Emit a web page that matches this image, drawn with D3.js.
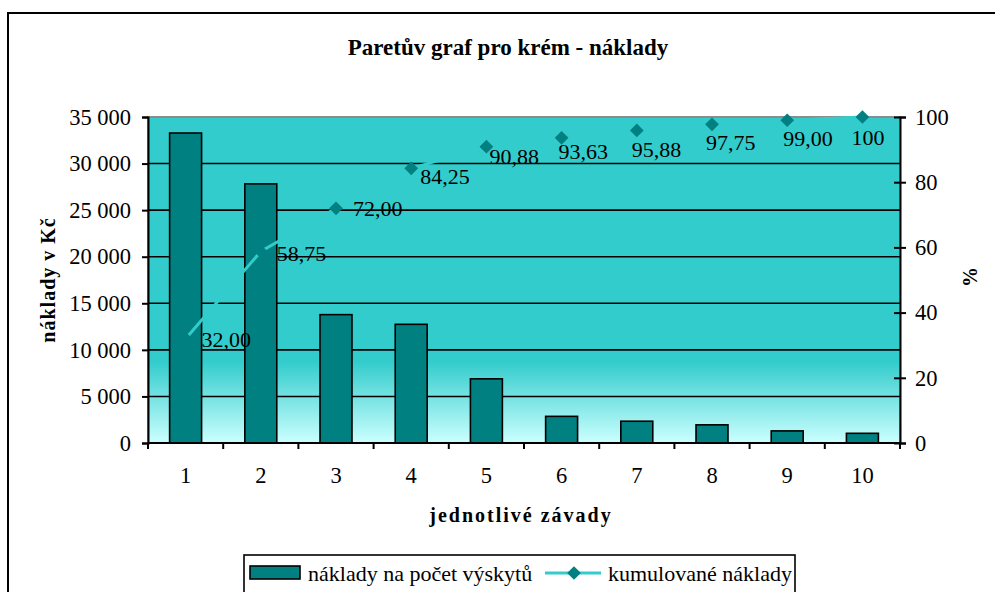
<!DOCTYPE html>
<html>
<head>
<meta charset="utf-8">
<script src="https://cdn.jsdelivr.net/npm/d3@7"></script>
<style>
  body { margin: 0; background: #fff; }
  svg { display: block; }
  svg text { font-family: 'Liberation Serif', 'Times New Roman', serif; fill: #000; }
</style>
</head>
<body>
<svg id="chart" width="995" height="592"></svg>
<script>
// Pareto data: cost per defect type and cumulative share of total cost
const categories = ["1", "2", "3", "4", "5", "6", "7", "8", "9", "10"];
const costs = [33280, 27820, 13780, 12740, 6890, 2860, 2340, 1950, 1300, 1040];
const cumulative = [32.00, 58.75, 72.00, 84.25, 90.88, 93.63, 95.88, 97.75, 99.00, 100];
const costTicks = [0, 5000, 10000, 15000, 20000, 25000, 30000, 35000];
const percentTicks = [0, 20, 40, 60, 80, 100];

// label placement around each cumulative marker [dx, dy] in px
const labelOffsets = [[16, 1], [16, 2], [17, 0], [9, 8], [3, 10], [-3, 14], [-5, 19], [-6, 18], [-4, 18], [-11, 20]];

const serif = "'Liberation Serif', 'Times New Roman', serif";
const svg = d3.select("#chart");
const plot = { left: 148, right: 900, top: 117, bottom: 443 };

const x = d3.scaleBand().domain(categories).range([plot.left, plot.right]).padding(0);
const yCost = d3.scaleLinear().domain([0, 35000]).range([plot.bottom, plot.top]);
const yPct = d3.scaleLinear().domain([0, 100]).range([plot.bottom, plot.top]);

const fmtCost = v => d3.format(",")(v).replace(/,/g, " ");
const fmtPct = v => v === 100 ? "100" : v.toFixed(2).replace(".", ",");

// outer chart frame
svg.append("rect")
  .attr("x", 8).attr("y", 13).attr("width", 1000).attr("height", 600)
  .attr("fill", "#fff").attr("stroke", "#000").attr("stroke-width", 2);

// plot-area gradient fill
const defs = svg.append("defs");
const grad = defs.append("linearGradient")
  .attr("id", "plotFill").attr("gradientUnits", "userSpaceOnUse")
  .attr("x1", 0).attr("x2", 0).attr("y1", plot.top).attr("y2", plot.bottom);
grad.append("stop").attr("offset", 0).attr("stop-color", "#33cccc");
grad.append("stop").attr("offset", 0.75).attr("stop-color", "#33cccc");
grad.append("stop").attr("offset", 1).attr("stop-color", "#ccffff");

svg.append("rect")
  .attr("x", plot.left).attr("y", plot.top)
  .attr("width", plot.right - plot.left).attr("height", plot.bottom - plot.top)
  .attr("fill", "url(#plotFill)").attr("stroke", "#8c8c8c").attr("stroke-width", 2);

// horizontal gridlines
svg.append("g").selectAll("line")
  .data(costTicks.filter(t => t > 0 && t < 35000))
  .join("line")
  .attr("x1", plot.left).attr("x2", plot.right)
  .attr("y1", d => yCost(d)).attr("y2", d => yCost(d))
  .attr("stroke", "#000").attr("stroke-width", 1.6);

// cost bars
const barW = x.bandwidth() * 0.425;
svg.append("g").selectAll("rect")
  .data(costs)
  .join("rect")
  .attr("x", (d, i) => x(categories[i]) + (x.bandwidth() - barW) / 2)
  .attr("y", d => yCost(d))
  .attr("width", barW)
  .attr("height", d => yCost(0) - yCost(d))
  .attr("fill", "#008080")
  .attr("stroke", "#000").attr("stroke-width", 1.6);

// cumulative line
const cx = i => x(categories[i]) + x.bandwidth() / 2;
const line = d3.line().x((d, i) => cx(i)).y(d => yPct(d));
svg.append("path")
  .datum(cumulative)
  .attr("d", line)
  .attr("fill", "none").attr("stroke", "#33cccc").attr("stroke-width", 3);

// diamond markers
const diamond = d3.symbol().type(d3.symbolDiamond2).size(120);
svg.append("g").selectAll("path")
  .data(cumulative)
  .join("path")
  .attr("d", diamond)
  .attr("transform", (d, i) => `translate(${cx(i)},${yPct(d)})`)
  .attr("fill", "#008080");

// value labels
svg.append("g").selectAll("text")
  .data(cumulative)
  .join("text")
  .attr("x", (d, i) => cx(i) + labelOffsets[i][0])
  .attr("y", (d, i) => yPct(d) + labelOffsets[i][1])
  .attr("dominant-baseline", "central")
  .attr("font-size", 22)
  .text(d => fmtPct(d));

// left axis
const leftAxis = svg.append("g")
  .attr("transform", `translate(${plot.left},0)`)
  .call(d3.axisLeft(yCost).tickValues(costTicks).tickFormat(fmtCost).tickSizeOuter(0).tickSize(6).tickPadding(11));
leftAxis.attr("font-family", serif);
leftAxis.select(".domain").attr("stroke", "#000").attr("stroke-width", 2);
leftAxis.selectAll(".tick line").attr("stroke", "#000").attr("stroke-width", 2);
leftAxis.selectAll(".tick text").attr("font-size", 22.5).attr("fill", "#000");

// right axis (ticks cross the axis line)
const rightAxis = svg.append("g")
  .attr("transform", `translate(${plot.right},0)`)
  .call(d3.axisRight(yPct).tickValues(percentTicks).tickSizeOuter(0).tickSize(6).tickPadding(9));
rightAxis.attr("font-family", serif);
rightAxis.select(".domain").attr("stroke", "#000").attr("stroke-width", 2);
rightAxis.selectAll(".tick line").attr("x1", -6).attr("stroke", "#000").attr("stroke-width", 2);
rightAxis.selectAll(".tick text").attr("font-size", 22.5).attr("fill", "#000");

// bottom axis: ticks on category boundaries, labels at centres
const bottom = svg.append("g").attr("transform", `translate(0,${plot.bottom})`);
bottom.append("line")
  .attr("x1", plot.left).attr("x2", plot.right)
  .attr("stroke", "#000").attr("stroke-width", 2);
const boundaries = categories.map(c => x(c)).concat([plot.right]);
bottom.selectAll(".b").data(boundaries).join("line")
  .attr("x1", d => d).attr("x2", d => d).attr("y1", 0).attr("y2", 6)
  .attr("stroke", "#000").attr("stroke-width", 2);
bottom.selectAll("text").data(categories).join("text")
  .attr("x", d => x(d) + x.bandwidth() / 2)
  .attr("y", 32)
  .attr("text-anchor", "middle").attr("dominant-baseline", "central")
  .attr("font-size", 22.5)
  .text(d => d);

// titles
svg.append("text")
  .attr("x", 508).attr("y", 47)
  .attr("text-anchor", "middle").attr("dominant-baseline", "central")
  .attr("font-size", 23).attr("font-weight", "bold")
  .text("Paretův graf pro krém - náklady");

svg.append("text")
  .attr("transform", "translate(48,280) rotate(-90)")
  .attr("text-anchor", "middle").attr("dominant-baseline", "central")
  .attr("font-size", 20).attr("font-weight", "bold").attr("letter-spacing", 1)
  .text("náklady v Kč");

svg.append("text")
  .attr("transform", "translate(970,277) rotate(-90)")
  .attr("text-anchor", "middle").attr("dominant-baseline", "central")
  .attr("font-size", 20).attr("font-weight", "bold")
  .text("%");

svg.append("text")
  .attr("x", 521).attr("y", 515)
  .attr("text-anchor", "middle").attr("dominant-baseline", "central")
  .attr("font-size", 20).attr("font-weight", "bold").attr("letter-spacing", 2)
  .text("jednotlivé závady");

// legend
const legend = svg.append("g");
legend.append("rect")
  .attr("x", 244).attr("y", 555).attr("width", 551).attr("height", 60)
  .attr("fill", "#fff").attr("stroke", "#000").attr("stroke-width", 1.6);
legend.append("rect")
  .attr("x", 250).attr("y", 566).attr("width", 50).attr("height", 13)
  .attr("fill", "#008080").attr("stroke", "#000").attr("stroke-width", 1.6);
legend.append("text")
  .attr("x", 308).attr("y", 573).attr("dominant-baseline", "central")
  .attr("font-size", 22).text("náklady na počet výskytů");
legend.append("line")
  .attr("x1", 545).attr("x2", 601).attr("y1", 573).attr("y2", 573)
  .attr("stroke", "#33cccc").attr("stroke-width", 3);
legend.append("path")
  .attr("d", diamond)
  .attr("transform", "translate(574,573)")
  .attr("fill", "#008080");
legend.append("text")
  .attr("x", 608).attr("y", 573).attr("dominant-baseline", "central")
  .attr("font-size", 22).text("kumulované náklady");
</script>
</body>
</html>
